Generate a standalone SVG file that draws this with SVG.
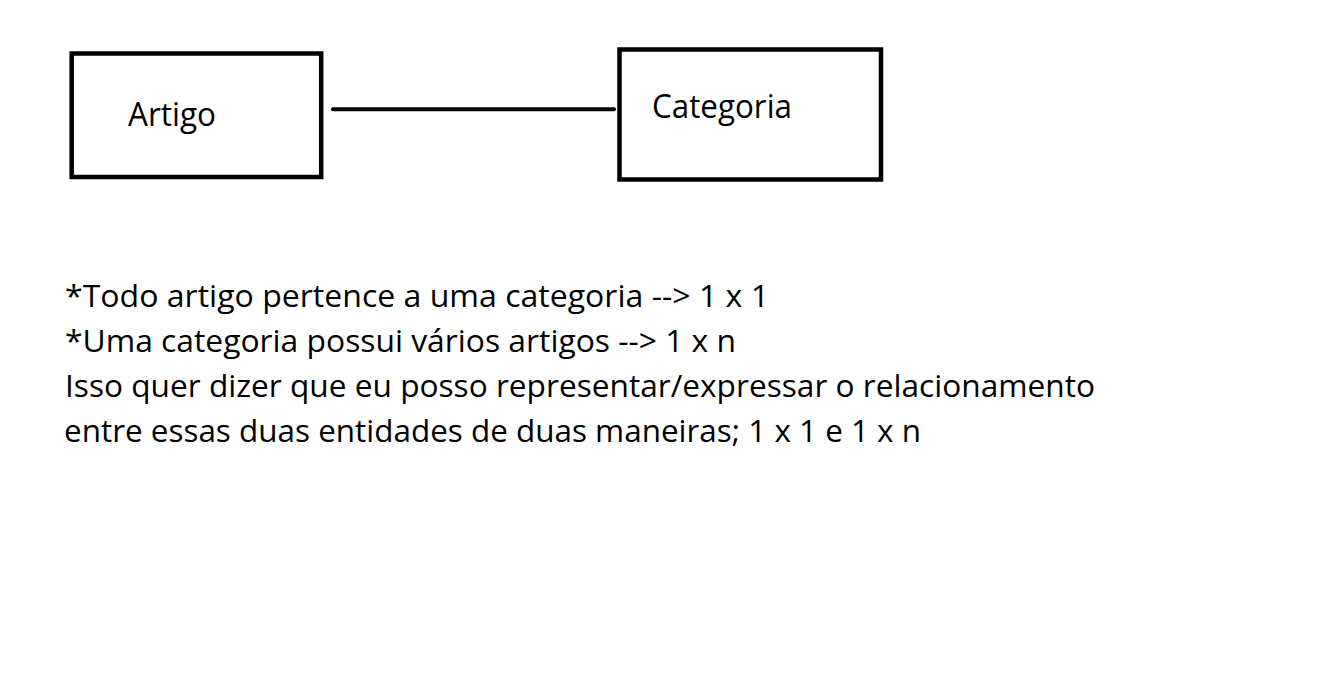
<svg xmlns="http://www.w3.org/2000/svg" width="1323" height="674" viewBox="0 0 1323 674">
<style>
.box{fill:#fff;stroke:#000;stroke-width:4.5}
.lbl{font-family:"Open Sans","Noto Sans","Liberation Sans",sans-serif;fill:#000}
.edge{stroke:#000;stroke-width:4;stroke-linecap:round;fill:none}
</style>
<rect width="1323" height="674" fill="#fff"/>
<g id="connectors">
<line class="edge" x1="333" y1="109.3" x2="614" y2="109.3"/>
</g>
<g id="node-artigo">
<rect class="box" x="71.7" y="53.5" width="249.5" height="123.5"/>
<text class="lbl" x="128" y="126" font-size="32" textLength="88" lengthAdjust="spacingAndGlyphs">Artigo</text>
</g>
<g id="node-categoria">
<rect class="box" x="619.5" y="49.5" width="261.5" height="130"/>
<text class="lbl" x="652" y="118.3" font-size="32" textLength="140" lengthAdjust="spacingAndGlyphs">Categoria</text>
</g>
<g id="notes" class="lbl" font-size="31">
<text x="65" y="307.3" textLength="704" lengthAdjust="spacingAndGlyphs">*Todo artigo pertence a uma categoria --&gt; 1 x 1</text>
<text x="65" y="351.7" textLength="671" lengthAdjust="spacingAndGlyphs">*Uma categoria possui vários artigos --&gt; 1 x n</text>
<text x="65" y="396.7" textLength="1030" lengthAdjust="spacingAndGlyphs">Isso quer dizer que eu posso representar/expressar o relacionamento</text>
<text x="64" y="441.7" textLength="857" lengthAdjust="spacingAndGlyphs">entre essas duas entidades de duas maneiras; 1 x 1 e 1 x n</text>
</g>
</svg>
